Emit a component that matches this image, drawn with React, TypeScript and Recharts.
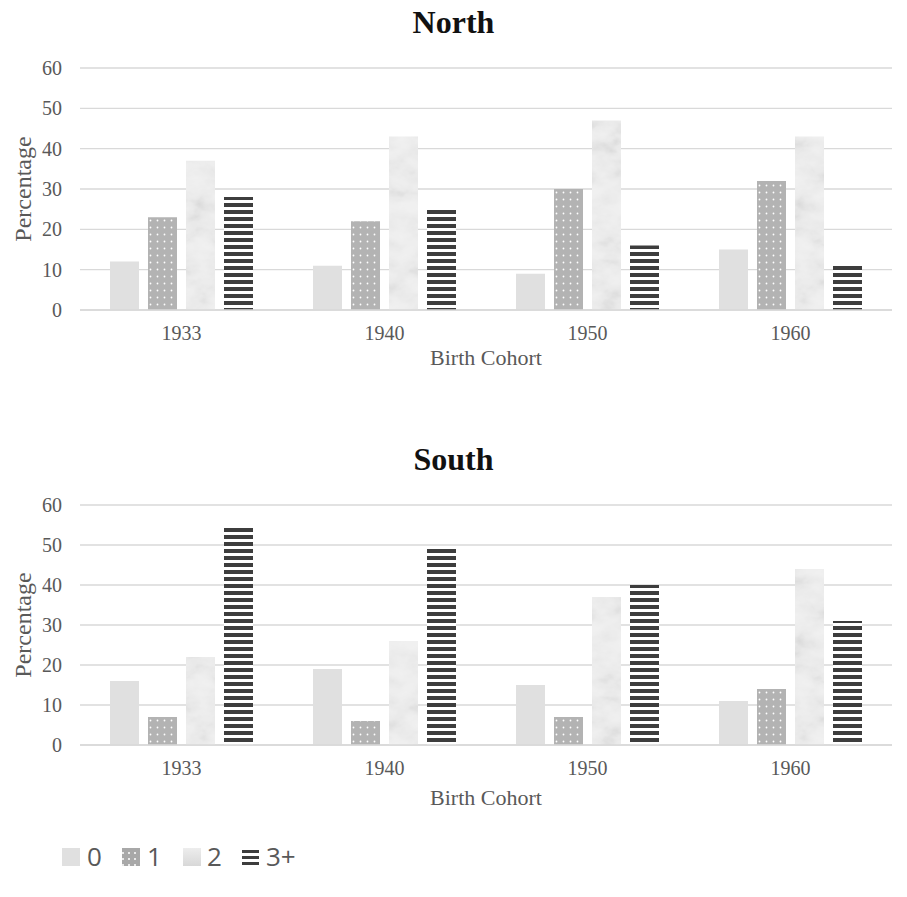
import React from "react";
import { BarChart, Bar, XAxis, YAxis, CartesianGrid } from "recharts";

const cohorts = ["1933", "1940", "1950", "1960"];
const seriesKeys = ["0", "1", "2", "3+"];
const yTicks = [0, 10, 20, 30, 40, 50, 60];

const north0 = [12, 11, 9, 15];
const north1 = [23, 22, 30, 32];
const north2 = [37, 43, 47, 43];
const north3 = [28, 25, 16, 11];

const south0 = [16, 19, 15, 11];
const south1 = [7, 6, 7, 14];
const south2 = [22, 26, 37, 44];
const south3 = [55, 49, 40, 31];

const build = (a: number[], b: number[], c: number[], d: number[]) =>
  cohorts.map((cohort, i) => ({ cohort, s0: a[i], s1: b[i], s2: c[i], s3: d[i] }));

const northData = build(north0, north1, north2, north3);
const southData = build(south0, south1, south2, south3);

const SERIF = '"Liberation Serif", "Times New Roman", serif';
const TICK_COLOR = "#595959";

function Patterns({ p }: { p: string }) {
  const table = "0.95 0.945 0.935 0.915 0.87 0.78";
  return (
    <defs>
      <filter
        id={`${p}-marbleF`}
        x="0"
        y="0"
        width="120"
        height="260"
        filterUnits="userSpaceOnUse"
        colorInterpolationFilters="sRGB"
      >
        <feTurbulence
          type="fractalNoise"
          baseFrequency="0.03 0.05"
          numOctaves="4"
          seed="7"
          stitchTiles="stitch"
          result="t"
        />
        <feColorMatrix
          in="t"
          type="matrix"
          values="1 0 0 0 0  1 0 0 0 0  1 0 0 0 0  0 0 0 0 1"
          result="g"
        />
        <feComponentTransfer in="g">
          <feFuncR type="table" tableValues={table} />
          <feFuncG type="table" tableValues={table} />
          <feFuncB type="table" tableValues={table} />
          <feFuncA type="linear" slope="0" intercept="1" />
        </feComponentTransfer>
      </filter>
      <pattern id={`${p}-dots`} width="7" height="7" patternUnits="userSpaceOnUse">
        <rect width="7" height="7" fill="#b3b3b3" />
        <circle cx="3.5" cy="3.5" r="0.9" fill="#ffffff" />
      </pattern>
      <pattern id={`${p}-marble`} width="120" height="260" patternUnits="userSpaceOnUse">
        <rect width="120" height="260" fill="#e6e6e6" filter={`url(#${p}-marbleF)`} />
      </pattern>
      <pattern id={`${p}-stripes`} width="8" height="7" patternUnits="userSpaceOnUse">
        <rect width="8" height="7" fill="#ffffff" />
        <rect y="0" width="8" height="4" fill="#3d3d3d" />
      </pattern>
    </defs>
  );
}

function Panel({
  data,
  title,
  top,
  plotHeight,
  p,
  xLabelDy,
}: {
  data: any[];
  title: string;
  top: number;
  plotHeight: number;
  p: string;
  xLabelDy: number;
}) {
  const marginTop = 68;
  const height = marginTop + plotHeight + 80;
  return (
    <div style={{ position: "absolute", left: 0, top, width: 907, height }}>
      <div
        style={{
          position: "absolute",
          left: 0,
          width: 907,
          top: 4,
          textAlign: "center",
          fontFamily: SERIF,
          fontWeight: "bold",
          fontSize: 32,
          lineHeight: "36px",
          color: "#111",
        }}
      >
        {title}
      </div>
      <BarChart
        width={907}
        height={height}
        data={data}
        margin={{ top: marginTop, right: 15, bottom: 20, left: 0 }}
        barSize={29}
        barGap={9}
      >
        <Patterns p={p} />
        <CartesianGrid vertical={false} stroke="#d9d9d9" strokeWidth={1.3} />
        <XAxis
          dataKey="cohort"
          axisLine={{ stroke: "#d9d9d9", strokeWidth: 1.3 }}
          tickLine={false}
          tickMargin={10}
          height={60}
          tick={{ fill: TICK_COLOR, fontFamily: SERIF, fontSize: 20 }}
          label={(props: any) => {
            const vb = props.viewBox;
            return (
              <text
                x={vb.x + vb.width / 2}
                y={vb.y + xLabelDy}
                textAnchor="middle"
                dominantBaseline="central"
                fill={TICK_COLOR}
                fontFamily={SERIF}
                fontSize={22}
              >
                Birth Cohort
              </text>
            );
          }}
        />
        <YAxis
          width={80}
          domain={[0, 60]}
          ticks={yTicks}
          axisLine={false}
          tickLine={false}
          tickMargin={12}
          tick={{ fill: TICK_COLOR, fontFamily: SERIF, fontSize: 20 }}
          label={(props: any) => {
            const vb = props.viewBox;
            const cy = vb.y + vb.height / 2;
            return (
              <text
                x={23}
                y={cy}
                transform={`rotate(-90, 23, ${cy})`}
                textAnchor="middle"
                dominantBaseline="central"
                fill={TICK_COLOR}
                fontFamily={SERIF}
                fontSize={24}
              >
                Percentage
              </text>
            );
          }}
        />
        <Bar dataKey="s0" name={seriesKeys[0]} fill="#e0e0e0" isAnimationActive={false} />
        <Bar dataKey="s1" name={seriesKeys[1]} fill={`url(#${p}-dots)`} isAnimationActive={false} />
        <Bar dataKey="s2" name={seriesKeys[2]} fill={`url(#${p}-marble)`} isAnimationActive={false} />
        <Bar dataKey="s3" name={seriesKeys[3]} fill={`url(#${p}-stripes)`} isAnimationActive={false} />
      </BarChart>
    </div>
  );
}

function LegendRow() {
  const items = [
    { x: 62, tx: 87, label: seriesKeys[0], kind: "solid" },
    { x: 122, tx: 147, label: seriesKeys[1], kind: "dots" },
    { x: 183, tx: 207, label: seriesKeys[2], kind: "marble" },
    { x: 242, tx: 266, label: seriesKeys[3], kind: "stripes" },
  ];
  return (
    <div style={{ position: "absolute", left: 0, top: 838, width: 907, height: 40 }}>
      <svg width={907} height={40} style={{ position: "absolute", left: 0, top: 0 }}>
        <defs>
          <pattern id="lg-dots" width="6" height="6" patternUnits="userSpaceOnUse">
            <rect width="6" height="6" fill="#a8a8a8" />
            <circle cx="3" cy="3" r="1" fill="#ffffff" />
          </pattern>
          <linearGradient id="lg-marble" x1="0" y1="0" x2="0" y2="1">
            <stop offset="0" stopColor="#ededed" />
            <stop offset="1" stopColor="#d8d8d8" />
          </linearGradient>
        </defs>
        {items.map((it) => {
          if (it.kind === "stripes") {
            return (
              <g key={it.label}>
                <rect x={it.x} y={12} width={17} height={3} fill="#3d3d3d" />
                <rect x={it.x} y={18} width={17} height={3} fill="#3d3d3d" />
                <rect x={it.x} y={24} width={17} height={3} fill="#3d3d3d" />
              </g>
            );
          }
          const fill =
            it.kind === "solid" ? "#e0e0e0" : it.kind === "dots" ? "url(#lg-dots)" : "url(#lg-marble)";
          return <rect key={it.label} x={it.x} y={10} width={18} height={18} fill={fill} />;
        })}
        {items.map((it) => (
          <text
            key={"t" + it.label}
            x={it.tx}
            y={28}
            fill={TICK_COLOR}
            fontFamily='"Open Sans", sans-serif'
            fontSize={26}
          >
            {it.label}
          </text>
        ))}
      </svg>
    </div>
  );
}

export default function App() {
  return (
    <div style={{ position: "absolute", left: 0, top: 0, width: 907, height: 897, background: "#fff" }}>
      <Panel data={northData} title="North" top={0} plotHeight={242} p="n" xLabelDy={47} />
      <Panel data={southData} title="South" top={437} plotHeight={240} p="s" xLabelDy={52} />
      <LegendRow />
    </div>
  );
}
